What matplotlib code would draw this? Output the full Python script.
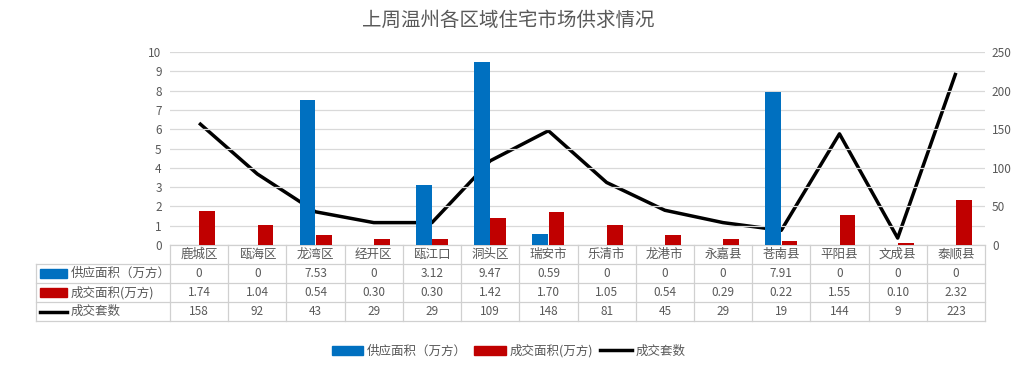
import matplotlib
matplotlib.use("Agg")
import matplotlib.pyplot as plt
from matplotlib.patches import Rectangle
from matplotlib.lines import Line2D
import matplotlib.transforms as mtransforms

plt.rcParams['font.family'] = ['Noto Sans CJK SC', 'DejaVu Sans']

title = "上周温州各区域住宅市场供求情况"
categories = ["鹿城区", "瓯海区", "龙湾区", "经开区", "瓯江口", "洞头区", "瑞安市",
              "乐清市", "龙港市", "永嘉县", "苍南县", "平阳县", "文成县", "泰顺县"]
supply = [0, 0, 7.53, 0, 3.12, 9.47, 0.59, 0, 0, 0, 7.91, 0, 0, 0]
deal_area = [1.74, 1.04, 0.54, 0.30, 0.30, 1.42, 1.70, 1.05, 0.54, 0.29, 0.22, 1.55, 0.10, 2.32]
deal_units = [158, 92, 43, 29, 29, 109, 148, 81, 45, 29, 19, 144, 9, 223]
supply_txt = ["0", "0", "7.53", "0", "3.12", "9.47", "0.59", "0", "0", "0", "7.91", "0", "0", "0"]
series_names = ["供应面积（万方）", "成交面积(万方)", "成交套数"]

BLUE = "#0070C0"
RED = "#C00000"
GREY = "#595959"
GRID = "#D9D9D9"

W, H = 1017, 371
fig = plt.figure(figsize=(W / 100, H / 100), dpi=100)
x0, x1, ytop, ybot = 170, 985, 52, 245
ax = fig.add_axes([x0 / W, 1 - ybot / H, (x1 - x0) / W, (ybot - ytop) / H])
ax2 = ax.twinx()

n = len(categories)
xs = list(range(n))
bw = 0.27
ax.bar([x - bw / 2 - 0.005 for x in xs], supply, width=bw, color=BLUE, zorder=3)
ax.bar([x + bw / 2 + 0.005 for x in xs], deal_area, width=bw, color=RED, zorder=3)
ax2.plot(xs, deal_units, color="black", lw=2.5, zorder=4, solid_capstyle='butt')

ax.set_xlim(-0.5, n - 0.5)
ax.set_ylim(0, 10)
ax.set_yticks(range(0, 11))
ax2.set_ylim(0, 250)
ax2.set_yticks(range(0, 251, 50))
ax.yaxis.grid(True, color=GRID, lw=0.9, zorder=0)
ax.set_axisbelow(True)
ax.set_xticks([])
for a in (ax, ax2):
    for s in a.spines.values():
        s.set_visible(False)
    a.tick_params(axis='y', length=0, labelsize=8.5, labelcolor=GREY)
ax.tick_params(axis='y', pad=6)
ax2.tick_params(axis='y', pad=5)
ax.set_zorder(ax2.get_zorder() + 1)
ax.patch.set_visible(False)

fig.text(0.5, 1 - 20 / H, title, ha='center', va='center', fontsize=14, color=GREY)

# data table
trans = mtransforms.blended_transform_factory(ax.transData, ax.transAxes)
ph = ybot - ytop
rh = 19 / ph
tcol = "#D0D0D0"
left_ax = (36 - x0) / (x1 - x0)
tra = ax.transAxes
ax.add_line(Line2D([0, 1], [0, 0], transform=tra, color=tcol, lw=0.9, clip_on=False))
for k in range(1, 5):
    ax.add_line(Line2D([left_ax, 1], [-k * rh, -k * rh], transform=tra, color=tcol, lw=0.9, clip_on=False))
for i in range(n + 1):
    ax.add_line(Line2D([i - 0.5, i - 0.5], [0, -4 * rh], transform=trans, color=tcol, lw=0.9, clip_on=False))
ax.add_line(Line2D([left_ax, left_ax], [-rh, -4 * rh], transform=tra, color=tcol, lw=0.9, clip_on=False))

rows = [supply_txt, ["%.2f" % v for v in deal_area], [str(v) for v in deal_units]]
for i, c in enumerate(categories):
    ax.text(i, -0.5 * rh, c, transform=trans, ha='center', va='center', fontsize=9, color=GREY)
    for r, row in enumerate(rows):
        ax.text(i, -(r + 1.5) * rh, row[i], transform=trans, ha='center', va='center', fontsize=8.5, color=GREY)

key_x0 = (40 - x0) / (x1 - x0)
key_w = 27 / (x1 - x0)
lab_x = (71 - x0) / (x1 - x0)
for r, name in enumerate(series_names):
    yc = -(r + 1.5) * rh
    if r < 2:
        ax.add_patch(Rectangle((key_x0, yc - 0.022), key_w, 0.044, transform=tra,
                               color=[BLUE, RED][r], clip_on=False))
    else:
        ax.add_line(Line2D([key_x0, key_x0 + key_w], [yc, yc], transform=tra, color='black',
                           lw=2.5, clip_on=False))
    ax.text(lab_x, yc, name, transform=tra, ha='left', va='center', fontsize=9, color=GREY)

handles = [Rectangle((0, 0), 1, 1, color=BLUE), Rectangle((0, 0), 1, 1, color=RED),
           Line2D([0], [0], color='black', lw=2.5)]
fig.legend(handles, series_names, loc='center', bbox_to_anchor=(0.5, 1 - 351 / H), ncol=3,
           frameon=False, fontsize=9, labelcolor=GREY, handlelength=2.5, handleheight=0.8,
           columnspacing=0.6, handletextpad=0.3)

fig.savefig("out.png", dpi=100)
